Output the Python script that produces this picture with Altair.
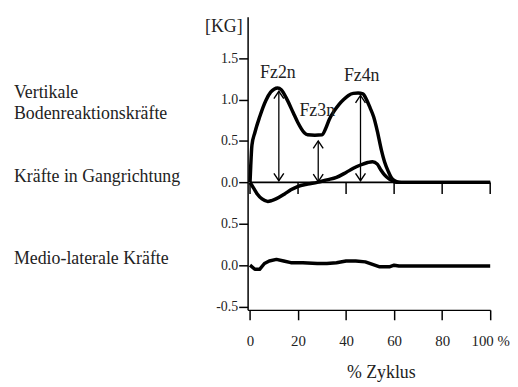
import altair as alt
import pandas as pd

FONT = "Liberation Serif"
TXT = "#222222"

# axis ticks
x_ticks = [0, 20, 40, 60, 80, 100]
y_ticks = [1.5, 1.0, 0.5, 0.0, -0.5, -1.0, -1.5]
y_tick_labels = ["1.5", "1.0", "0.5", "0.0", "0.5", "0.0", "-0.5"]

# vertical ground reaction force
vert_x = [0, 0.3, 0.8, 2, 4, 6.6, 8.6, 10, 11.5, 13, 15.6, 18, 19.8, 22.6, 24, 27, 30, 31.5,
          33, 35, 37, 39, 41, 43, 45, 47, 48.5, 50, 51.5, 53, 54.7, 56, 57.6, 59, 61, 63, 100]
vert_y = [0, 0.2, 0.45, 0.6, 0.79, 0.99, 1.09, 1.125, 1.14, 1.12, 0.99, 0.84, 0.73, 0.6, 0.575,
          0.57, 0.575, 0.65, 0.76, 0.86, 0.94, 1.0, 1.05, 1.075, 1.08, 1.07, 1.0, 0.9, 0.79, 0.62,
          0.39, 0.25, 0.13, 0.05, 0.01, 0, 0]

# force in walking direction
fa_x = [0, 1.5, 3, 5, 7.4, 9, 10.8, 14.4, 17, 19.8, 24, 28, 32, 36, 40, 43, 46, 49, 51,
        53, 54.5, 56, 58, 60, 61.5, 100]
fa_y = [0, -0.07, -0.14, -0.2, -0.23, -0.22, -0.2, -0.14, -0.09, -0.05, -0.02, 0.0, 0.03,
        0.06, 0.12, 0.17, 0.21, 0.24, 0.25, 0.22, 0.15, 0.09, 0.04, 0.01, 0, 0]

# medio-lateral force (plotted on the lower baseline)
ml_x = [0, 2, 4, 6, 8, 11, 14, 17, 22, 28, 32, 36, 40, 44, 48, 51, 54, 58, 60, 62, 100]
ml_y = [0, -0.05, -0.05, 0.02, 0.05, 0.07, 0.05, 0.03, 0.03, 0.02, 0.02, 0.03, 0.05, 0.05,
        0.04, 0.01, -0.02, -0.02, 0.0, -0.01, -0.01]
ml_baseline = -1.0

# arrows
arrow_x = [12.0, 28.4, 46.0]
arrow_bottom = [0.02, 0.01, 0.02]
arrow_top = [1.1, 0.5, 1.05]

# annotations
fz_labels = ["Fz2n", "Fz3n", "Fz4n"]
fz_x = [11.6, 28.0, 46.5]
fz_y = [1.32, 0.865, 1.28]

side_labels = ["Vertikale", "Bodenreaktionskräfte", "Kräfte in Gangrichtung", "Medio-laterale Kräfte"]
side_y = [1.08, 0.83, 0.065, -0.93]

xs = alt.Scale(domain=[-1, 100], nice=False, zero=False)
ys = alt.Scale(domain=[-1.54, 2.0], nice=False, zero=False)

y_expr = "".join(
    f"abs(datum.value - ({v})) < 0.001 ? '{l}' : " for v, l in zip(y_ticks, y_tick_labels)
) + "datum.label"
x_expr = "datum.value == 100 ? '100 %' : datum.label"

vert_df = pd.DataFrame({"x": vert_x, "y": vert_y})
fa_df = pd.DataFrame({"x": fa_x, "y": fa_y})
ml_df = pd.DataFrame({"x": ml_x, "y": [v + ml_baseline for v in ml_y]})
arr_df = pd.DataFrame({"x": arrow_x, "y0": arrow_bottom, "y1": arrow_top})
fz_df = pd.DataFrame({"x": fz_x, "y": fz_y, "t": fz_labels})
side_df = pd.DataFrame({"y": side_y, "t": side_labels})
tick_df = pd.DataFrame({"x": x_ticks, "y0": [0.0] * len(x_ticks), "y1": [-0.14] * len(x_ticks)})
zero_df = pd.DataFrame({"x0": [0], "x1": [100], "y": [0.0]})

base_axes = alt.Chart(vert_df).mark_line(
    color="black", strokeWidth=3.5, interpolate="monotone", strokeJoin="round"
).encode(
    x=alt.X("x:Q", scale=xs, axis=alt.Axis(
        values=x_ticks, labelExpr=x_expr, orient="bottom", domain=True, domainColor="black",
        domainWidth=1.5, tickSize=10, tickColor="black", tickWidth=1.5, grid=False, title=None,
        labelFlush=False, labelOverlap=False,
        labelFont=FONT, labelFontSize=15, labelColor=TXT, labelPadding=14)),
    y=alt.Y("y:Q", scale=ys, axis=alt.Axis(
        values=y_ticks, labelExpr=y_expr, orient="left", domain=True, domainColor="black",
        domainWidth=1.5, tickSize=9, tickColor="black", tickWidth=1.5, grid=False, title=None,
        labelFlush=False, labelOverlap=False,
        labelFont=FONT, labelFontSize=14, labelColor=TXT, labelPadding=1)),
)

zero_line = alt.Chart(zero_df).mark_rule(color="black", strokeWidth=1.6).encode(
    x=alt.X("x0:Q", scale=xs), x2="x1:Q", y=alt.Y("y:Q", scale=ys))

upper_ticks = alt.Chart(tick_df).mark_rule(color="black", strokeWidth=1.5).encode(
    x=alt.X("x:Q", scale=xs), y=alt.Y("y0:Q", scale=ys), y2="y1:Q")

fa_line = alt.Chart(fa_df).mark_line(
    color="black", strokeWidth=3.5, interpolate="monotone", strokeJoin="round"
).encode(x=alt.X("x:Q", scale=xs), y=alt.Y("y:Q", scale=ys))

ml_line = alt.Chart(ml_df).mark_line(
    color="black", strokeWidth=3.5, strokeJoin="round"
).encode(x=alt.X("x:Q", scale=xs), y=alt.Y("y:Q", scale=ys))

shafts = alt.Chart(arr_df).mark_rule(color="black", strokeWidth=1.3).encode(
    x=alt.X("x:Q", scale=xs), y=alt.Y("y0:Q", scale=ys), y2="y1:Q")

heads_up = alt.Chart(arr_df).mark_point(
    shape="M-1,1.5L0,0L1,1.5", filled=False, color="black", strokeWidth=1.4, size=100, opacity=1
).encode(x=alt.X("x:Q", scale=xs), y=alt.Y("y1:Q", scale=ys))

heads_down = alt.Chart(arr_df).mark_point(
    shape="M-1,-1.5L0,0L1,-1.5", filled=False, color="black", strokeWidth=1.4, size=100, opacity=1
).encode(x=alt.X("x:Q", scale=xs), y=alt.Y("y0:Q", scale=ys))

fz_text = alt.Chart(fz_df).mark_text(
    font=FONT, fontSize=18, color=TXT, align="center", baseline="middle"
).encode(x=alt.X("x:Q", scale=xs), y=alt.Y("y:Q", scale=ys), text="t:N")

side_text = alt.Chart(side_df).mark_text(
    font=FONT, fontSize=18, color=TXT, align="left", baseline="middle"
).encode(x=alt.value(-236), y=alt.Y("y:Q", scale=ys), text="t:N")

kg_text = alt.Chart(pd.DataFrame({"t": ["[KG]"]})).mark_text(
    font=FONT, fontSize=18, color=TXT, align="right", baseline="middle"
).encode(x=alt.value(-5), y=alt.value(10), text="t:N")

zyklus_text = alt.Chart(pd.DataFrame({"t": ["% Zyklus"]})).mark_text(
    font=FONT, fontSize=18, color=TXT, align="center", baseline="middle"
).encode(x=alt.value(135), y=alt.value(360), text="t:N")

chart = alt.layer(
    zero_line, upper_ticks, base_axes, fa_line, ml_line, shafts, heads_up, heads_down,
    fz_text, side_text, kg_text, zyklus_text
).properties(
    width=245, height=296,
    autosize=alt.AutoSizeParams(type="none"),
    padding={"left": 242, "top": 7, "right": 20, "bottom": 75},
    background="white",
).configure_view(stroke=None)

chart.save("out.html", embed_options={"renderer": "svg", "actions": False})
